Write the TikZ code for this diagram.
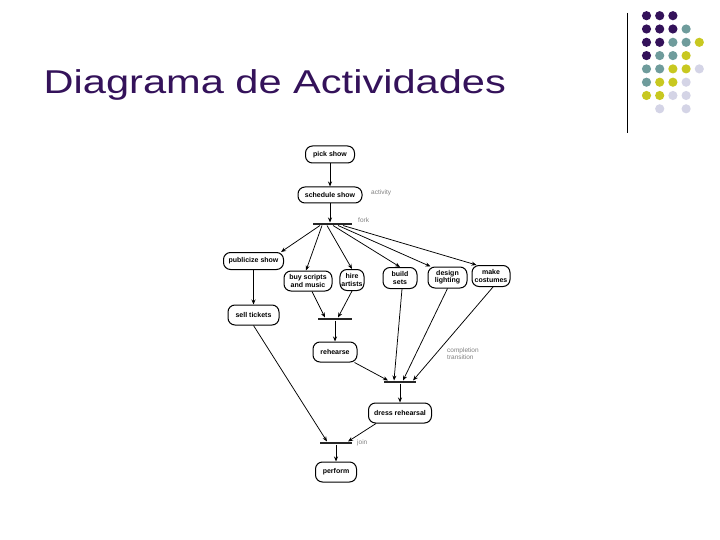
\documentclass[tikz,border=0pt]{standalone}
\usepackage{fontspec}
\setmainfont{Liberation Sans}
\newfontfamily\titlefont[FakeStretch=1.26]{Liberation Sans}
\usepackage{xcolor}
\usepackage{tikz}
\usetikzlibrary{arrows.meta}
\definecolor{titlepurple}{HTML}{34125A}
\definecolor{dotteal}{HTML}{6F9C9C}
\definecolor{dotyellow}{HTML}{C8C820}
\definecolor{dotlilac}{HTML}{D4D4E6}
\tikzset{
  actbox/.style={draw,line width=1pt,rounded corners=7pt,minimum height=20pt,inner xsep=1.5pt,inner ysep=1pt,align=center,font=\fontsize{7}{7.2}\selectfont\bfseries},
  syncbar/.style={fill=black!85,minimum height=2.6pt,inner sep=0pt},
  flow/.style={-{Stealth[length=5pt,width=4pt]},line width=0.75pt},
  remark/.style={text=black!50,font=\fontsize{6.5}{7}\selectfont,inner sep=0pt,align=left,anchor=west},
}

\begin{document}
\begin{tikzpicture}[x=1pt,y=-1pt]
  \useasboundingbox (0,0) rectangle (720,540);
  \node[anchor=base west,text=titlepurple,inner sep=0pt,font=\titlefont\fontsize{33}{36}\selectfont] (title) at (43.5,94) {Diagrama de Actividades};
  \draw[line width=0.8pt] (627,13) -- (627,133);
  \foreach \c/\r in {1/1,2/1,3/1,1/2,2/2,3/2,1/3,2/3,1/4} \fill[titlepurple] (633.3+13.2*\c,2.4+13.3*\r) circle (4.6pt);
  \foreach \c/\r in {4/2,3/3,4/3,2/4,3/4,1/5,2/5,1/6} \fill[dotteal] (633.3+13.2*\c,2.4+13.3*\r) circle (4.6pt);
  \foreach \c/\r in {5/3,4/4,3/5,4/5,2/6,3/6,1/7,2/7} \fill[dotyellow] (633.3+13.2*\c,2.4+13.3*\r) circle (4.6pt);
  \foreach \c/\r in {5/5,4/6,3/7,4/7,2/8,4/8} \fill[dotlilac] (633.3+13.2*\c,2.4+13.3*\r) circle (4.6pt);
  % activities
  \node[actbox,minimum width=49pt,minimum height=17pt] (pick) at (330,154.5) {pick show};
  \node[actbox,minimum width=64pt,minimum height=16pt] (schedule) at (330,195) {schedule show};
  \node[syncbar,minimum width=39pt] (fork) at (332.5,224) {};
  \node[actbox,minimum width=60pt,minimum height=17pt] (publicize) at (253.5,261) {publicize show};
  \node[actbox,minimum width=48pt] (scripts) at (308,281) {buy scripts\\and music};
  \node[actbox,minimum width=24pt,minimum height=21pt] (artists) at (352,280) {hire\\artists};
  \node[actbox,minimum width=34pt,minimum height=21pt] (build) at (400,278) {build\\sets};
  \node[actbox,minimum width=39pt,minimum height=21pt] (design) at (447.5,277.5) {design\\lighting};
  \node[actbox,minimum width=38pt,minimum height=21pt] (costumes) at (491,276) {make\\costumes};
  \node[actbox,minimum width=51pt] (sell) at (253.5,315) {sell tickets};
  \node[syncbar,minimum width=34pt] (join1) at (335,319) {};
  \node[actbox,minimum width=44pt] (rehearse) at (335,352) {rehearse};
  \node[syncbar,minimum width=32pt] (join2) at (400,382) {};
  \node[actbox,minimum width=63pt] (dress) at (400,413) {dress rehearsal};
  \node[syncbar,minimum width=32pt] (join3) at (336,443) {};
  \node[actbox,minimum width=41pt] (perform) at (336,472) {perform};
  % notes
  \node[remark] (activitylbl) at (371,193) {activity};
  \node[remark] (forklbl) at (358,220) {fork};
  \node[remark] (completionlbl) at (447,354) {completion\\transition};
  \node[remark] (joinlbl) at (357,443) {join};
  % flows
  \draw[flow] (pick) -- (schedule);
  \draw[flow] (schedule) -- (schedule |- fork.north);
  \draw[flow] ([xshift=-12.5pt]fork.south) -- ([xshift=-3pt]publicize.north east);
  \draw[flow] ([xshift=-10.5pt]fork.south) -- ([xshift=-2pt]scripts.north);
  \draw[flow] ([xshift=-5.5pt]fork.south) -- (artists.north);
  \draw[flow] ([xshift=0.5pt]fork.south) -- (build.north);
  \draw[flow] ([xshift=5.5pt]fork.south) -- ([xshift=3pt]design.north west);
  \draw[flow] ([xshift=10.5pt]fork.south) -- ([xshift=5pt]costumes.north west);
  \draw[flow] (publicize) -- (sell);
  \draw[flow] ([xshift=4pt]scripts.south) -- ([xshift=-10pt]join1.north);
  \draw[flow] (artists.south) -- ([xshift=3pt]join1.north);
  \draw[flow] (join1) -- (rehearse);
  \draw[flow] ([xshift=-3pt]rehearse.south east) -- ([xshift=-12pt]join2.north);
  \draw[flow] ([xshift=2pt]build.south) -- ([xshift=-6pt]join2.north);
  \draw[flow] (design.south) -- ([xshift=3pt]join2.north);
  \draw[flow] ([xshift=2pt]costumes.south) -- ([xshift=13pt]join2.north);
  \draw[flow] (join2) -- (dress);
  \draw[flow] (sell.south) -- ([xshift=-9pt]join3.north);
  \draw[flow] ([xshift=8pt]dress.south west) -- ([xshift=12pt]join3.north);
  \draw[flow] (join3) -- (perform);
\end{tikzpicture}
\end{document}
